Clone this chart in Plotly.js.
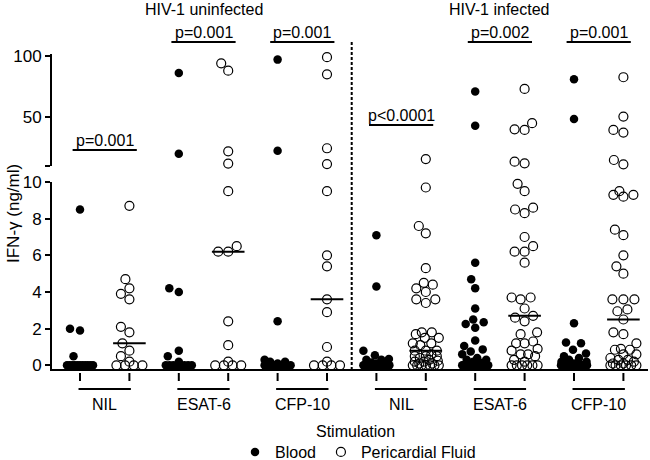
<!DOCTYPE html>
<html><head><meta charset="utf-8">
<script src="https://cdn.plot.ly/plotly-3.0.1.min.js"></script>
<style>html,body{margin:0;padding:0;background:#fff}#chart{width:650px;height:460px}</style>
</head><body><div id="chart"></div>
<script>
// ---------------- data ----------------
const categories = ['NIL','ESAT-6','CFP-10','NIL','ESAT-6','CFP-10'];
const cohorts = ['HIV-1 uninfected','HIV-1 infected'];
const pLabels = ['p=0.001','p=0.001','p=0.001','p<0.0001','p=0.002','p=0.001'];
const seriesNames = ['Blood','Pericardial Fluid'];
const yTitle = 'IFN-γ (ng/ml)';
const xTitle = 'Stimulation';
const lowerTicks = [0,2,4,6,8,10];
const upperTicks = [10,50,100];
const upperTickText = ['','50','100'];

const uninfNilBlood  = [8.5,2.0,1.9,0.5,0,0,0,0,0,0,0,0,0,0,0];
const uninfNilPF     = [8.7,4.7,4.2,3.9,3.6,2.1,1.8,1.2,0.8,0.5,0.2,0,0,0,0];
const uninfEsatBlood = [86,20,4.2,4.0,0.8,0.5,0.2,0,0,0,0,0,0,0,0];
const uninfEsatPF    = [94,88,22,12,9.5,6.5,6.2,6.2,2.4,1.1,0.2,0,0,0,0];
const uninfCfpBlood  = [97,22.5,2.4,0.3,0.2,0.2,0.1,0,0,0,0,0,0,0,0];
const uninfCfpPF     = [99,85,24.5,11.6,9.5,6.0,5.4,3.6,2.9,1.0,0.2,0,0,0,0];
const infNilBlood    = [7.1,4.3,0.8,0.55,0.35,0.3,0.3,0.15,0.1,
  0,0,0,0,0,0,0,0,0,0,0,0,0,0,0,0,0,0,0,0,0,0,0,0,0,0,0,0,0,0,0,0];
const infNilPF       = [15.7,9.7,7.6,7.2,5.3,4.5,4.4,4.2,4.0,3.6,3.6,3.4,
  1.8,1.8,1.7,1.5,1.5,1.2,1.2,1.1,0.8,0.8,0.8,0.6,0.5,0.5,0.5,0.4,0.3,0.25,0.2,0.2,0.1,0.1,
  0,0,0,0,0,0,0];
const infEsatBlood   = [71,43,5.6,4.7,4.2,3.1,2.5,2.35,2.25,2.05,1.35,1.05,0.87,0.75,0.6,0.4,0.3,0.3,0.2,0.15,
  0,0,0,0,0,0,0,0,0,0,0,0,0,0,0,0,0,0,0,0,0];
const infEsatPF      = [73,45,40,39.5,13.5,12.2,9.9,9.5,8.6,8.5,8.3,7.0,6.5,6.2,6.2,5.6,3.7,3.7,3.6,3.1,
  2.7,2.6,2.4,1.8,1.7,1.3,1.2,1.2,0.9,0.8,0.6,0.6,0.5,0.3,0.2,0,0,0,0,0,0];
const infCfpBlood    = [81,48.5,2.3,1.25,1.2,0.85,0.65,0.5,0.4,0.3,0.2,0.2,0.1,
  0,0,0,0,0,0,0,0,0,0,0,0,0,0,0,0,0,0,0,0,0,0,0,0,0,0,0,0];
const infCfpPF       = [82.6,50.4,39.5,37.3,14.9,11.4,9.5,9.3,9.3,9.2,7.4,7.1,6.0,5.4,5.0,3.6,3.6,3.6,3.05,2.95,
  2.5,1.8,1.7,1.2,0.9,0.85,0.85,0.6,0.6,0.4,0.3,0.3,0.2,0.1,0.1,0,0,0,0,0,0];

const medianBlood = [0,0,0,0,0,0];
const medianPF    = [1.2,6.2,3.6,0.8,2.7,2.5];

const bloodGroups = [uninfNilBlood,uninfEsatBlood,uninfCfpBlood,infNilBlood,infEsatBlood,infCfpBlood];
const pfGroups    = [uninfNilPF,uninfEsatPF,uninfCfpPF,infNilPF,infEsatPF,infCfpPF];

// ---------------- layout geometry ----------------
const W = 650, H = 460;
const M = {l:52, r:2, t:54, b:91};
const plotW = W - M.l - M.r, plotH = H - M.t - M.b;
const xRange = [-0.567, 11.498];
const yLowRange = [-0.2, 10], yUpRange = [10, 101.6];
const lowPx = [369, 182], upPx = [166, 54];   // [bottom, top] pixel rows
const lowDomain = [(H - M.b - lowPx[0]) / plotH, (H - M.b - lowPx[1]) / plotH];
const upDomain  = [(H - M.b - upPx[0]) / plotH, (H - M.b - upPx[1]) / plotH];
const pxPerX = plotW / (xRange[1] - xRange[0]);
const xPx = v => M.l + (v - xRange[0]) * pxPerX;
const yPx = v => v > 10
  ? upPx[0] - (v - yUpRange[0]) / (yUpRange[1] - yUpRange[0]) * (upPx[0] - upPx[1])
  : lowPx[0] - (v - yLowRange[0]) / (yLowRange[1] - yLowRange[0]) * (lowPx[0] - lowPx[1]);
const paperX = px => (px - M.l) / plotW;
const paperY = py => (H - M.b - py) / plotH;

// simple beeswarm (pixel space) -> horizontal offsets in data units
function swarm(values, maxOff, D) {
  const n = values.length;
  const order = values.map((v, i) => i).sort((a, b) => values[a] - values[b]);
  const offs = new Array(n);
  const placed = [];
  const counts = {};
  values.forEach(v => counts[v] = (counts[v] || 0) + 1);
  const done = new Set();
  Object.keys(counts).forEach(k => {
    const c = counts[k], v = +k;
    if (c >= 3) {
      const width = Math.min((c - 1) * (D + 1), 2 * maxOff);
      let j = 0;
      order.forEach(i => {
        if (values[i] === v) {
          const o = -width / 2 + width * j / (c - 1);
          offs[i] = o; placed.push({x: o, y: yPx(v)}); done.add(i); j++;
        }
      });
    }
  });
  order.forEach(i => {
    if (done.has(i)) return;
    const y = yPx(values[i]);
    let best = 0, bestScore = -Infinity;
    for (let o = 0; o <= maxOff + 1e-9; o += 0.5) {
      for (const s of (o === 0 ? [0] : [-o, o])) {
        let md = Infinity;
        placed.forEach(p => { const d = Math.hypot(p.x - s, p.y - y); if (d < md) md = d; });
        const score = md >= D ? 1000 - Math.abs(s) : md;
        if (score > bestScore) { bestScore = score; best = s; }
      }
    }
    offs[i] = best; placed.push({x: best, y});
  });
  return offs.map(o => o / pxPerX);
}

function buildTraces(groups, xOffset, name, marker) {
  const lo = {x: [], y: []}, up = {x: [], y: []};
  groups.forEach((vals, k) => {
    const cx = 2 * k + xOffset;
    const offs = swarm(vals, 13, 10);
    vals.forEach((v, i) => {
      const t = v > 10 ? up : lo;
      t.x.push(cx + offs[i]); t.y.push(v);
    });
  });
  return [
    {type: 'scatter', mode: 'markers', name: name, x: lo.x, y: lo.y, xaxis: 'x', yaxis: 'y',
     marker: marker, cliponaxis: false, showlegend: true, hoverinfo: 'skip'},
    {type: 'scatter', mode: 'markers', name: name, x: up.x, y: up.y, xaxis: 'x', yaxis: 'y2',
     marker: marker, cliponaxis: false, showlegend: false, hoverinfo: 'skip'}
  ];
}

const bloodMarker = {symbol: 'circle', size: 8.5, color: '#000', line: {width: 0}};
const pfMarker = {symbol: 'circle-open', size: 9, color: '#000', line: {width: 1.2, color: '#000'}};

const traces = [
  ...buildTraces(bloodGroups, 0, seriesNames[0], bloodMarker),
  ...buildTraces(pfGroups, 1, seriesNames[1], pfMarker)
];

// median lines
const mx = [], my = [];
medianBlood.forEach((m, k) => { mx.push(2*k - 0.33, 2*k + 0.33, null); my.push(m, m, null); });
medianPF.forEach((m, k) => { mx.push(2*k + 1 - 0.33, 2*k + 1 + 0.33, null); my.push(m, m, null); });
traces.push({type: 'scatter', mode: 'lines', x: mx, y: my, xaxis: 'x', yaxis: 'y',
  line: {color: '#000', width: 2}, showlegend: false, hoverinfo: 'skip', cliponaxis: false});

// ---------------- annotations & shapes ----------------
const FONT = 'Arial, "Liberation Sans", sans-serif';
const annotations = [];
const shapes = [];
const bracketPx = [150, 42, 42, 125, 42, 42];

categories.forEach((c, k) => {
  const cx = 2 * k + 0.5;
  annotations.push({text: c, xref: 'paper', yref: 'paper', x: paperX(xPx(cx)), y: paperY(404),
    xanchor: 'center', yanchor: 'middle', showarrow: false, font: {size: 16, color: '#000', family: FONT}});
  shapes.push({type: 'line', xref: 'paper', yref: 'paper',
    x0: paperX(xPx(cx - 0.53)), x1: paperX(xPx(cx + 0.53)), y0: paperY(389), y1: paperY(389),
    line: {color: '#000', width: 2}});
  annotations.push({text: pLabels[k], xref: 'paper', yref: 'paper', x: paperX(xPx(cx)), y: paperY(bracketPx[k] - 10),
    xanchor: 'center', yanchor: 'middle', showarrow: false, font: {size: 16, color: '#000', family: FONT}});
  shapes.push({type: 'line', xref: 'paper', yref: 'paper',
    x0: paperX(xPx(cx - 0.65)), x1: paperX(xPx(cx + 0.65)), y0: paperY(bracketPx[k]), y1: paperY(bracketPx[k]),
    line: {color: '#000', width: 2}});
});
for (let i = 0; i < 12; i++) {
  shapes.push({type: 'line', xref: 'paper', yref: 'paper',
    x0: paperX(xPx(i)), x1: paperX(xPx(i)), y0: paperY(373), y1: paperY(381),
    line: {color: '#000', width: 2}});
}
cohorts.forEach((c, j) => {
  annotations.push({text: c, xref: 'paper', yref: 'paper', x: paperX(xPx(6 * j + 2.5)), y: paperY(9),
    xanchor: 'center', yanchor: 'middle', showarrow: false, font: {size: 16, color: '#000', family: FONT}});
});
shapes.push({type: 'line', xref: 'paper', yref: 'paper',
  x0: paperX(xPx(5.5)), x1: paperX(xPx(5.5)), y0: paperY(42), y1: paperY(369),
  line: {color: '#000', width: 2, dash: '3px,2px'}});
annotations.push({text: xTitle, xref: 'paper', yref: 'paper', x: paperX(355), y: paperY(431),
  xanchor: 'center', yanchor: 'middle', showarrow: false, font: {size: 16, color: '#000', family: FONT}});
annotations.push({text: yTitle, xref: 'paper', yref: 'paper', x: paperX(13), y: paperY(214),
  xanchor: 'center', yanchor: 'middle', textangle: -90, showarrow: false, font: {size: 17, color: '#000', family: FONT}});

const axisCommon = {showline: true, linewidth: 2, linecolor: '#000', ticks: 'outside', ticklen: 5, tickwidth: 2,
  tickcolor: '#000', showgrid: false, zeroline: false, automargin: false,
  tickfont: {size: 17, color: '#000', family: FONT}};

const layout = {
  width: W, height: H, margin: Object.assign({autoexpand: false}, M),
  paper_bgcolor: '#fff', plot_bgcolor: 'rgba(0,0,0,0)',
  font: {family: FONT, color: '#000'},
  xaxis: {range: xRange, showline: true, linewidth: 2, linecolor: '#000', ticks: '', showticklabels: false,
    showgrid: false, zeroline: false, anchor: 'y', fixedrange: true, automargin: false},
  yaxis: Object.assign({}, axisCommon, {domain: lowDomain, range: yLowRange, tickvals: lowerTicks,
    ticktext: lowerTicks.map(String), anchor: 'x'}),
  yaxis2: Object.assign({}, axisCommon, {domain: upDomain, range: yUpRange, tickvals: upperTicks,
    ticktext: upperTickText, anchor: 'x'}),
  showlegend: true,
  legend: {orientation: 'h', xref: 'container', yref: 'container', x: 358 / W, xanchor: 'center',
    y: 1 - 452 / H, yanchor: 'middle', font: {size: 16, color: '#000', family: FONT}, bgcolor: 'rgba(0,0,0,0)'},
  annotations: annotations,
  shapes: shapes
};

Plotly.newPlot('chart', traces, layout, {staticPlot: true, displayModeBar: false});
</script>
</body></html>
